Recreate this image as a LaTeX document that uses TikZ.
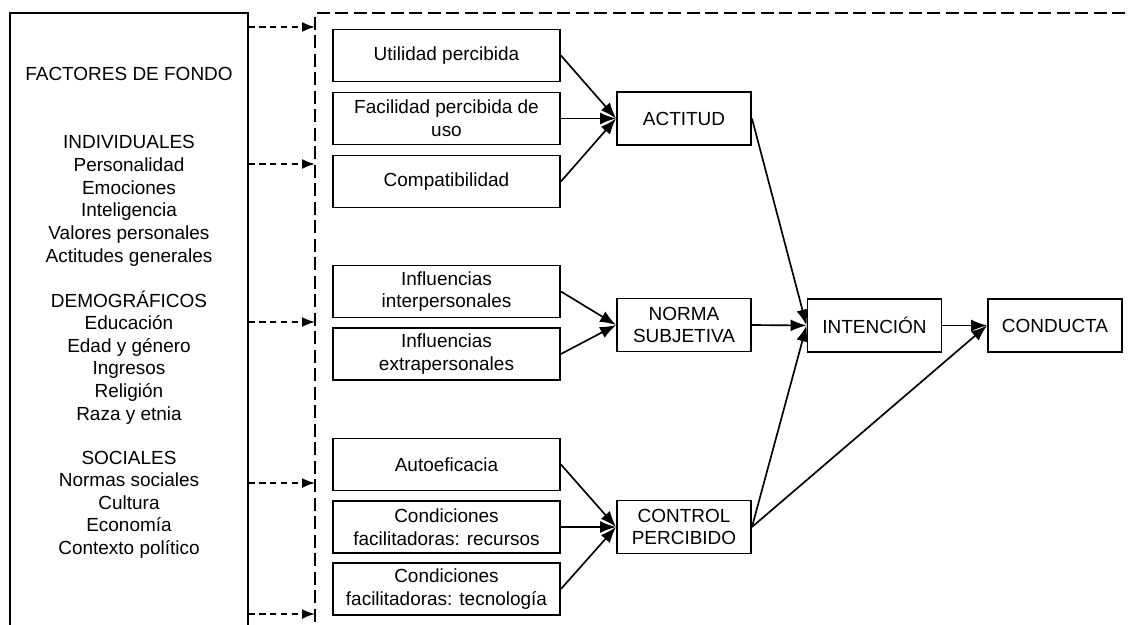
\documentclass[tikz,border=0pt]{standalone}
\usepackage{fontspec}
\setmainfont{Liberation Sans}
\usetikzlibrary{arrows.meta,positioning}

\tikzset{
  caja/.style={draw,line width=1.1pt,minimum width=4.54cm,minimum height=1.04cm,align=center,inner sep=1pt},
  proceso/.style={draw,line width=1.1pt,minimum width=2.68cm,minimum height=1.06cm,align=center,inner sep=1pt},
  flecha/.style={-{Latex[length=0.32cm,width=0.24cm]},line width=0.95pt},
  guion/.style={dash pattern=on 0.26cm off 0.11cm,line width=1.1pt},
  flechaguion/.style={-{Latex[length=0.26cm,width=0.2cm]},dash pattern=on 0.13cm off 0.09cm,line width=1pt},
  renglon/.style={anchor=base,inner sep=0pt}
}

\begin{document}
\begin{tikzpicture}[x=0.02cm,y=-0.02cm,font=\fontsize{10.8}{12.9}\selectfont]
  \useasboundingbox (0,0) rectangle (1129,625);

  % factores de fondo
  \draw[line width=1.1pt] (10,640) -- (10,13) -- (248,13) -- (248,640);
  \node[renglon] (fondo) at (129,81) {FACTORES DE FONDO};
  \foreach \t [count=\i from 0] in {INDIVIDUALES,Personalidad,Emociones,Inteligencia,Valores personales,Actitudes generales}
    {\node[renglon] (ind\i) at (129,149+22.6*\i) {\t};}
  \foreach \t [count=\i from 0] in {DEMOGRÁFICOS,Educación,Edad y género,Ingresos,Religión,Raza y etnia}
    {\node[renglon] (dem\i) at (129,307+22.6*\i) {\t};}
  \foreach \t [count=\i from 0] in {SOCIALES,Normas sociales,Cultura,Economía,Contexto político}
    {\node[renglon] (soc\i) at (129,464+22.6*\i) {\t};}

  % marco punteado
  \draw[guion] (315,640) -- (315,13) -- (1140,13);
  \foreach \y [count=\i] in {27,164,322,483,614}
    {\coordinate (s\i) at (248,\y);
     \coordinate (t\i) at (315,\y);
     \draw[flechaguion] (s\i) -- (t\i);}

  % creencias
  \node[caja] (util)    at (446.5,55.5) {Utilidad percibida};
  \node[caja] (facil)   at (446.5,118.5) {Facilidad percibida de\\uso};
  \node[caja] (compat)  at (446.5,181.5) {Compatibilidad};
  \node[caja] (infint)  at (446.5,291.5) {Influencias\\interpersonales};
  \node[caja] (infext)  at (446.5,354) {Influencias\\extrapersonales};
  \node[caja] (autoef)  at (446.5,464.5) {Autoeficacia};
  \node[caja] (condrec) at (446.5,527) {Condiciones\\facilitadoras: recursos};
  \node[caja] (condtec) at (446.5,589) {Condiciones\\facilitadoras: tecnología};

  % constructos
  \node[proceso] (actitud)   at (684,118.5) {ACTITUD};
  \node[proceso] (norma)     at (684,325) {NORMA\\SUBJETIVA};
  \node[proceso] (control)   at (684,527) {CONTROL\\PERCIBIDO};
  \node[proceso] (intencion) at (874.5,325.5) {INTENCIÓN};
  \node[proceso] (conducta)  at (1055,325.5) {CONDUCTA};

  \foreach \a in {util,facil,compat}
    {\draw[flecha] (\a.east) -- (actitud.west);}
  \foreach \a in {infint,infext}
    {\draw[flecha] (\a.east) -- (norma.west);}
  \foreach \a in {autoef,condrec,condtec}
    {\draw[flecha] (\a.east) -- (control.west);}
  \foreach \a in {actitud,norma,control}
    {\draw[flecha] (\a.east) -- (intencion.west);}
  \draw[flecha] (intencion.east) -- (conducta.west);
  \draw[flecha] (control.east) -- (conducta.west);
\end{tikzpicture}
\end{document}
